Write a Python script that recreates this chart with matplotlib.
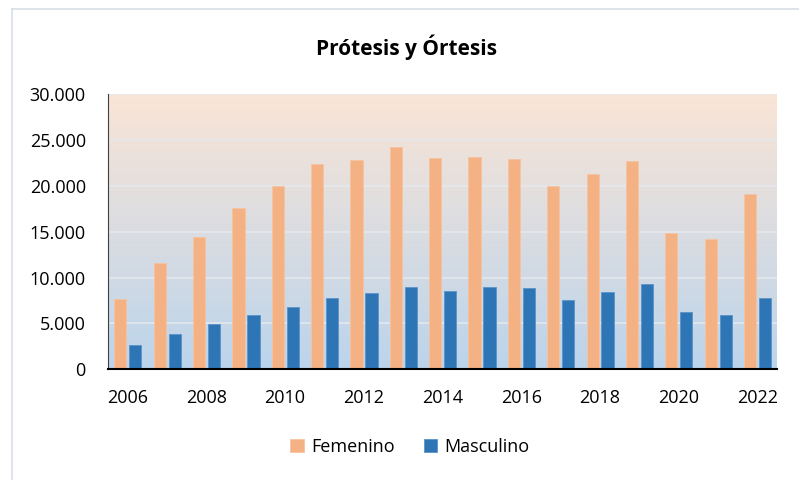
import matplotlib
matplotlib.use("Agg")
import matplotlib.pyplot as plt
import numpy as np
from matplotlib.ticker import FuncFormatter
from matplotlib.lines import Line2D

anios = list(range(2006, 2023))
femenino = [7700, 11600, 14400, 17600, 20000, 22400, 22800, 24200, 23000,
            23100, 22900, 20000, 21300, 22700, 14800, 14200, 19100]
masculino = [2700, 3900, 4900, 5900, 6800, 7750, 8350, 8950, 8500,
             8950, 8850, 7600, 8450, 9250, 6250, 5950, 7750]
etiquetas_x = [str(a) if a % 2 == 0 else "" for a in anios]

plt.rcParams['font.family'] = ['Open Sans', 'DejaVu Sans']

fig = plt.figure(figsize=(7.99, 4.80), dpi=100)
ax = fig.add_axes([108 / 799, 1 - 369.3 / 480, 669 / 799, 275.3 / 480])

# fondo degradado del area de trazado
arriba = np.array([250, 229, 214]) / 255
abajo = np.array([187, 212, 236]) / 255
t = np.linspace(0, 1, 256)[:, None]
grad = (arriba * (1 - t) + abajo * t)[:, None, :]
ax.imshow(grad, extent=[0, 1, 0, 1], transform=ax.transAxes,
          aspect='auto', zorder=0)

x = np.arange(len(anios))
ancho = 0.31
ax.bar(x - 0.185, femenino, ancho, color='#F4B183', edgecolor='#F6C3A0',
       linewidth=0.6, zorder=3, label='Femenino')
ax.bar(x + 0.195, masculino, ancho, color='#2E75B6', edgecolor='#5B93C8',
       linewidth=0.6, zorder=3, label='Masculino')

ax.set_xlim(-0.5, len(anios) - 0.5)
ax.set_ylim(0, 30000)
ax.set_yticks(range(0, 30001, 5000))
ax.yaxis.set_major_formatter(FuncFormatter(lambda v, p: f"{int(v):,}".replace(",", ".")))
ax.set_xticks(x)
ax.set_xticklabels(etiquetas_x)
ax.tick_params(length=0, labelsize=13, colors='#000000')
ax.tick_params(axis='x', pad=14)
ax.tick_params(axis='y', pad=16)
ax.grid(axis='y', color='#E4E8EE', linewidth=1.2, zorder=1)
ax.set_axisbelow(True)
for lado in ['top', 'right']:
    ax.spines[lado].set_visible(False)
ax.spines['bottom'].set_linewidth(1.5)
ax.spines['bottom'].set_zorder(4)
ax.spines['left'].set_linewidth(0.8)
ax.spines['left'].set_color('#404040')

fig.text(406 / 799, 1 - 47 / 480, "Prótesis y Órtesis", ha='center', va='center',
         fontsize=15, fontweight='bold')

fig.legend(loc='center', bbox_to_anchor=(410 / 799, 1 - 447 / 480), ncol=2,
           frameon=False, fontsize=13, handlelength=0.75, handleheight=0.75,
           columnspacing=1.6, handletextpad=0.4)

# borde del grafico
fig.add_artist(Line2D([12 / 799, 12 / 799], [0, 1 - 9 / 480], color='#D9DEE6', linewidth=1.2))
fig.add_artist(Line2D([12 / 799, 1], [1 - 9 / 480, 1 - 9 / 480], color='#D9DEE6', linewidth=1.2))

fig.savefig("out.png", dpi=100)
